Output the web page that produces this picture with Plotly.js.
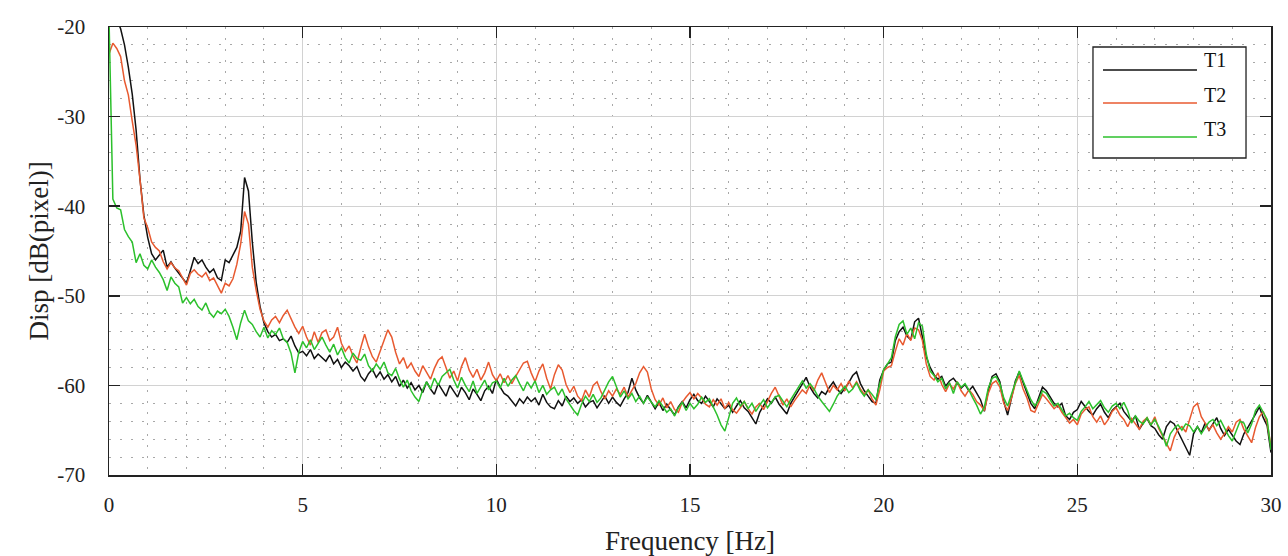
<!DOCTYPE html>
<html><head><meta charset="utf-8">
<script src="https://cdn.plot.ly/plotly-3.0.1.min.js"></script>
<style>html,body{margin:0;padding:0;background:#fff}#chart{width:1288px;height:556px}</style>
</head><body><div id="chart"></div>
<script>
const seriesNames = ['T1', 'T2', 'T3'];
const seriesColors = ['#111111', '#e85a30', '#2cc02c'];
const freqStep = 0.1; // Hz between samples
const xTickVals = [0, 5, 10, 15, 20, 25, 30];
const xTickText = ['0', '5', '10', '15', '20', '25', '30'];
const yTickVals = [-70, -60, -50, -40, -30, -20];
const yTickText = ['-70', '-60', '-50', '-40', '-30', '-20'];

const t1 = [
-17,-18,-19,-20.2,-22,-24.5,-27.5,-31.5,-37,-41,
-43.5,-45.3,-46,-45.5,-44.9,-46.8,-46.2,-46.9,-47.5,-48.1,
-48.6,-47.2,-45.7,-46.4,-46.0,-46.8,-47.4,-47.0,-48.0,-48.3,
-46.0,-46.3,-45.4,-44.6,-42.8,-36.8,-38.3,-44.0,-48.5,-51.2,
-53.0,-54.0,-54.6,-54.3,-55.0,-54.8,-55.2,-54.5,-55.6,-56.4,
-56.2,-56.7,-56.0,-57.0,-56.5,-56.9,-57.3,-56.6,-57.6,-57.1,
-58.0,-57.4,-57.8,-58.4,-57.9,-59.0,-59.5,-58.7,-58.2,-59.1,
-58.5,-59.3,-58.8,-59.6,-59.0,-60.1,-59.4,-60.3,-59.7,-60.5,
-60.0,-60.8,-59.6,-60.4,-61.0,-59.8,-60.5,-61.2,-60.0,-60.7,
-61.3,-60.2,-60.8,-61.6,-60.4,-61.0,-61.7,-60.6,-60.1,-60.9,
-59.3,-60.2,-60.9,-61.2,-61.8,-62.3,-61.5,-62.0,-61.3,-61.8,
-61.4,-62.2,-61.0,-61.9,-62.4,-62.6,-61.7,-62.3,-61.2,-61.8,
-61.4,-62.0,-61.6,-62.4,-61.9,-61.7,-62.5,-61.8,-61.2,-62.0,
-61.3,-61.9,-62.3,-61.5,-60.8,-59.2,-60.5,-61.4,-62.0,-61.1,
-61.8,-62.6,-61.9,-62.8,-62.1,-62.7,-63.3,-62.4,-61.8,-62.5,
-61.6,-61.0,-61.7,-62.0,-61.2,-61.8,-62.4,-61.5,-62.0,-62.6,
-62.2,-63.0,-62.3,-61.7,-62.5,-62.9,-63.6,-64.3,-63.0,-62.2,
-61.5,-62.0,-61.3,-62.1,-62.7,-63.2,-62.0,-61.3,-60.6,-59.8,
-59.1,-60.2,-60.9,-61.4,-60.7,-61.0,-60.2,-59.6,-60.4,-60.9,
-60.3,-59.7,-58.9,-58.5,-59.8,-60.6,-61.2,-61.8,-62.0,-59.4,
-58.3,-57.6,-57.4,-55.0,-54.0,-53.5,-54.5,-54.9,-52.9,-52.5,
-54.6,-56.8,-58.0,-58.8,-59.3,-59.0,-60.1,-59.5,-59.2,-59.8,
-60.3,-59.9,-60.6,-60.1,-60.9,-61.6,-62.9,-60.6,-59.0,-58.7,
-59.6,-61.8,-63.3,-61.5,-59.5,-58.5,-59.7,-60.8,-62.0,-62.6,
-61.4,-60.2,-60.6,-61.3,-62.0,-62.4,-62.0,-63.4,-63.8,-63.0,
-62.7,-61.8,-62.4,-62.9,-63.3,-62.6,-62.1,-63.0,-63.6,-62.8,
-62.4,-62.0,-62.9,-63.5,-64.0,-63.4,-64.9,-64.2,-63.7,-64.5,
-64.8,-65.5,-66.0,-64.6,-64.0,-64.3,-65.2,-66.1,-67.0,-67.8,
-65.4,-64.6,-65.3,-64.2,-65.0,-64.3,-63.6,-64.8,-65.6,-64.9,
-65.5,-66.2,-66.6,-65.4,-64.7,-64.0,-63.2,-62.4,-63.6,-64.5,
-67.5
];

const t2 = [
-23.0,-21.8,-22.4,-23.3,-26.0,-27.6,-30.5,-33.2,-37.0,-41.3,
-42.4,-44.0,-44.6,-45.0,-46.2,-47.0,-46.3,-46.9,-47.2,-48.0,
-48.8,-47.5,-47.1,-47.6,-47.9,-47.4,-48.3,-48.0,-48.8,-49.7,
-48.6,-48.9,-48.1,-46.5,-44.2,-40.6,-42.0,-46.8,-49.4,-51.5,
-52.8,-53.5,-52.7,-52.3,-53.0,-52.2,-51.6,-52.6,-53.5,-54.2,
-53.4,-54.6,-55.5,-54.0,-55.2,-54.1,-53.8,-55.0,-54.6,-53.5,
-55.3,-56.2,-55.6,-56.7,-57.5,-55.8,-54.3,-55.7,-56.8,-57.4,
-56.2,-55.0,-53.8,-54.6,-56.3,-57.6,-56.9,-58.1,-57.5,-58.4,
-59.0,-57.8,-58.5,-59.3,-58.1,-57.2,-56.8,-58.0,-59.2,-58.4,
-59.5,-57.9,-56.9,-58.3,-59.1,-58.2,-59.4,-58.6,-57.4,-58.8,
-59.5,-58.7,-59.7,-58.9,-59.8,-59.0,-58.2,-57.5,-57.3,-58.6,
-59.6,-58.4,-57.6,-59.2,-60.4,-58.8,-57.7,-58.3,-59.9,-60.8,
-60.1,-61.2,-61.7,-60.5,-61.3,-60.0,-59.6,-60.7,-61.5,-60.6,
-61.2,-60.4,-61.0,-60.2,-61.3,-60.6,-59.8,-58.6,-57.9,-58.5,
-60.4,-61.6,-62.2,-61.4,-62.5,-61.8,-62.7,-63.0,-61.9,-61.3,
-60.8,-61.5,-60.9,-61.4,-62.1,-62.4,-61.6,-62.2,-61.5,-62.6,
-61.9,-62.7,-63.1,-62.5,-61.8,-62.6,-63.2,-62.4,-62.0,-62.7,
-61.8,-60.9,-60.2,-61.3,-62.2,-61.5,-62.4,-61.7,-61.1,-60.5,
-60.9,-59.9,-60.6,-59.4,-58.6,-59.7,-60.8,-60.0,-60.5,-59.8,
-60.6,-59.5,-60.3,-59.6,-60.4,-61.0,-60.5,-61.5,-62.2,-60.5,
-58.4,-58.0,-57.8,-56.2,-54.8,-55.5,-54.2,-55.0,-53.6,-53.8,
-55.0,-57.6,-59.0,-59.4,-58.6,-59.9,-60.7,-59.8,-60.4,-59.6,
-60.6,-61.2,-60.5,-61.0,-61.8,-62.2,-62.8,-60.9,-59.8,-59.5,
-60.2,-62.0,-62.8,-61.4,-59.8,-58.9,-60.4,-61.4,-62.8,-63.0,
-62.0,-61.0,-61.5,-62.1,-62.6,-62.2,-63.0,-63.6,-64.2,-63.8,
-64.4,-63.2,-62.7,-62.4,-63.5,-64.1,-63.4,-64.4,-63.8,-62.9,
-62.5,-63.3,-63.8,-64.6,-63.7,-64.3,-64.9,-64.0,-63.6,-64.4,
-63.5,-64.8,-65.6,-66.5,-67.3,-65.8,-64.9,-64.6,-65.2,-63.8,
-62.4,-62.0,-63.5,-64.2,-65.0,-64.4,-65.3,-66.0,-65.4,-64.6,
-65.2,-64.1,-63.8,-64.9,-65.6,-66.4,-64.7,-63.5,-62.9,-64.2,
-66.8
];

const t3 = [
-19.0,-39.2,-40.2,-40.4,-42.6,-43.4,-44.0,-46.3,-45.3,-46.6,
-47.0,-46.0,-46.8,-47.4,-48.2,-49.4,-47.9,-48.6,-49.0,-50.8,
-50.2,-50.9,-50.4,-51.2,-51.6,-50.8,-51.9,-52.4,-51.7,-52.0,
-51.5,-52.3,-53.5,-54.9,-53.0,-51.6,-52.8,-53.2,-54.0,-54.6,
-53.5,-54.7,-53.9,-54.3,-53.6,-54.8,-55.2,-56.4,-58.6,-56.3,
-55.1,-55.8,-54.9,-56.0,-55.3,-54.6,-55.5,-56.3,-55.4,-56.6,
-55.8,-56.9,-57.5,-56.4,-57.0,-57.2,-56.5,-57.8,-58.4,-57.6,
-58.2,-57.4,-58.6,-58.9,-58.1,-59.3,-60.2,-59.4,-60.6,-61.3,
-61.8,-60.5,-59.6,-60.4,-59.2,-60.0,-59.0,-58.6,-58.2,-59.4,
-60.3,-59.1,-60.0,-60.7,-59.5,-60.9,-60.2,-59.4,-60.5,-59.7,
-59.5,-60.3,-59.2,-60.1,-59.4,-58.9,-59.8,-60.6,-59.6,-60.3,
-59.5,-60.8,-60.0,-61.0,-60.5,-60.2,-61.1,-60.4,-61.5,-62.2,
-62.8,-63.3,-62.1,-61.2,-61.8,-61.0,-61.9,-61.4,-60.4,-59.6,
-59.0,-60.2,-61.3,-60.6,-61.5,-60.9,-61.8,-61.2,-62.0,-61.3,
-61.9,-62.4,-61.7,-62.3,-63.0,-62.6,-63.4,-62.5,-61.9,-62.8,
-62.0,-62.6,-62.1,-61.3,-61.9,-61.5,-62.4,-63.3,-64.4,-65.1,
-63.6,-62.0,-61.4,-62.3,-61.8,-62.6,-62.0,-62.9,-62.2,-61.6,
-62.5,-61.9,-61.3,-61.1,-61.8,-62.4,-61.6,-60.9,-60.2,-59.5,
-60.3,-59.8,-60.4,-61.2,-61.8,-62.4,-62.9,-62.1,-61.2,-60.6,
-60.1,-60.8,-60.4,-59.7,-60.6,-61.2,-60.5,-61.0,-61.6,-59.8,
-58.2,-57.6,-56.9,-54.6,-53.2,-52.8,-54.3,-53.6,-54.8,-53.0,
-53.4,-56.5,-58.4,-58.9,-59.6,-59.2,-60.4,-59.7,-60.9,-59.6,
-60.2,-59.8,-60.5,-61.4,-62.2,-63.2,-62.4,-60.3,-59.2,-59.0,
-59.8,-61.4,-62.3,-61.0,-59.6,-58.4,-59.5,-60.6,-61.6,-62.3,
-61.7,-60.6,-60.9,-61.6,-62.3,-62.0,-62.7,-63.4,-63.1,-63.6,
-63.9,-62.9,-62.4,-61.8,-62.6,-62.2,-61.7,-62.5,-63.0,-62.3,
-62.0,-62.6,-61.9,-62.8,-64.2,-63.4,-64.0,-64.3,-63.6,-64.4,
-63.8,-64.6,-65.5,-66.8,-65.4,-64.8,-64.4,-65.0,-64.3,-64.5,
-65.2,-64.6,-65.4,-64.7,-64.1,-63.8,-64.5,-63.9,-64.8,-65.6,
-66.2,-65.0,-64.0,-64.2,-65.3,-64.3,-62.8,-62.2,-63.0,-63.8,
-67.2
];

const series = [t1, t2, t3];
const freq = t1.map((_, i) => +(i * freqStep).toFixed(2));

const serif = "'Liberation Serif', 'Times New Roman', serif";

const traces = series.map((ys, k) => ({
  type: 'scatter', mode: 'lines', x: freq, y: ys, name: seriesNames[k],
  line: {color: seriesColors[k], width: 1.5}, showlegend: false
}));

// custom legend box (paper coordinates)
const legBox = {x0: 0.8468, x1: 0.9785, y0: 0.7076, y1: 0.9554};
const legLineY = [0.904, 0.8304, 0.7545];
const legTextY = [0.9263, 0.8482, 0.7723];
const shapes = [{type: 'rect', xref: 'paper', yref: 'paper', x0: legBox.x0, x1: legBox.x1, y0: legBox.y0, y1: legBox.y1,
  line: {color: '#222', width: 1.3}, fillcolor: '#ffffff', layer: 'above'}];
const annotations = [];
seriesNames.forEach((n, k) => {
  shapes.push({type: 'line', xref: 'paper', yref: 'paper', x0: 0.8554, x1: 0.9363, y0: legLineY[k], y1: legLineY[k],
    line: {color: seriesColors[k], width: 1.7}, layer: 'above'});
  annotations.push({xref: 'paper', yref: 'paper', x: 0.9405, y: legTextY[k], xanchor: 'left', yanchor: 'middle',
    text: n, showarrow: false, font: {family: serif, size: 20, color: '#111'}});
});

const axisCommon = {
  tickmode: 'array',
  ticks: 'inside', ticklen: 11, tickwidth: 1.5, tickcolor: '#222',
  showline: true, linecolor: '#222', linewidth: 1.5, mirror: 'ticks',
  showgrid: true, gridcolor: '#d2d2d2', gridwidth: 1, zeroline: false,
  tickfont: {family: serif, size: 21, color: '#222'}
};

const layout = {
  width: 1288, height: 556,
  margin: {l: 109, r: 17, t: 27, b: 81},
  paper_bgcolor: '#fff', plot_bgcolor: '#fff',
  xaxis: Object.assign({}, axisCommon, {
    range: [0, 30], tickvals: xTickVals, ticktext: xTickText, ticklabelstandoff: 10,
    minor: {dtick: 1, tick0: 0, showgrid: true, gridcolor: '#a8a8a8', griddash: '2px,9px', gridwidth: 1, ticks: ''},
    title: {text: 'Frequency [Hz]', font: {family: serif, size: 27, color: '#222'}, standoff: 17}
  }),
  yaxis: Object.assign({}, axisCommon, {
    range: [-70, -20], tickvals: yTickVals, ticktext: yTickText, ticklabelstandoff: 18,
    minor: {dtick: 2, tick0: -70, showgrid: true, gridcolor: '#a8a8a8', griddash: '2px,9px', gridwidth: 1, ticks: ''},
    title: {text: 'Disp [dB(pixel)]', font: {family: serif, size: 27, color: '#222'}, standoff: 1}
  }),
  shapes: shapes,
  annotations: annotations,
  showlegend: false
};

Plotly.newPlot('chart', traces, layout, {displayModeBar: false, staticPlot: true});
</script>
</body></html>
